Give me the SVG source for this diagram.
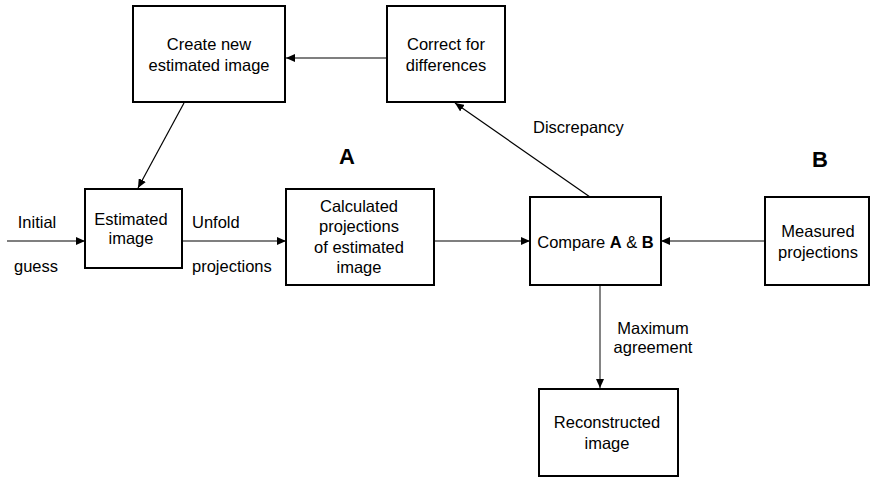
<svg xmlns="http://www.w3.org/2000/svg" width="870" height="478" viewBox="0 0 870 478">
<style>
.box{fill:#fff;stroke:#000;stroke-width:2}
.t{font-family:"Liberation Sans",Arial,sans-serif;font-size:16.5px;fill:#000;text-anchor:middle}
.l{font-family:"Liberation Sans",Arial,sans-serif;font-size:16.5px;fill:#000}
.big{font-family:"Liberation Sans",Arial,sans-serif;font-size:22px;font-weight:bold;fill:#000;text-anchor:middle}
.c{stroke:#000;stroke-width:1.2;fill:none;marker-end:url(#ah)}
.g{stroke:#777;stroke-width:1.8;fill:none;marker-end:url(#ah)}
</style>
<defs>
<marker id="ah" markerWidth="10" markerHeight="8" refX="9" refY="4" orient="auto" markerUnits="userSpaceOnUse">
<path d="M0,0 L9,4 L0,8 Z" fill="#000"/>
</marker>
</defs>
<rect width="870" height="478" fill="#fff"/>
<g id="connectors">
<line class="c" x1="387" y1="58" x2="286" y2="58"/>
<line class="c" x1="184" y1="103" x2="138" y2="188"/>
<line class="c" x1="7" y1="241" x2="85" y2="241"/>
<line class="c" x1="182" y1="241" x2="286" y2="241"/>
<line class="c" x1="434" y1="241" x2="530" y2="241"/>
<line class="c" x1="765" y1="241" x2="661" y2="241"/>
<line class="c" x1="590" y1="197" x2="455" y2="103"/>
<line class="g" x1="600" y1="286" x2="600" y2="388"/>
</g>
<g id="create">
<rect class="box" x="133" y="6" width="152" height="96"/>
<text class="t" x="209" y="50">Create new</text>
<text class="t" x="209" y="71">estimated image</text>
</g>
<g id="correct">
<rect class="box" x="387" y="6" width="118" height="96"/>
<text class="t" x="446" y="50">Correct for</text>
<text class="t" x="446" y="71">differences</text>
</g>
<g id="estimated">
<rect class="box" x="85" y="189" width="97" height="79"/>
<text class="t" x="131" y="225">Estimated</text>
<text class="t" x="131" y="244">image</text>
</g>
<g id="calculated">
<rect class="box" x="286" y="189" width="148" height="96"/>
<text class="t" x="359" y="212">Calculated</text>
<text class="t" x="359" y="232">projections</text>
<text class="t" x="359" y="253">of estimated</text>
<text class="t" x="359" y="273">image</text>
</g>
<g id="compare">
<rect class="box" x="530" y="197" width="131" height="88"/>
<text class="t" x="595.5" y="248">Compare <tspan font-weight="bold">A</tspan> &amp; <tspan font-weight="bold">B</tspan></text>
</g>
<g id="measured">
<rect class="box" x="765" y="197" width="104" height="88"/>
<text class="t" x="818" y="237">Measured</text>
<text class="t" x="818" y="258">projections</text>
</g>
<g id="reconstructed">
<rect class="box" x="539" y="389" width="139" height="87"/>
<text class="t" x="607" y="428">Reconstructed</text>
<text class="t" x="607" y="449">image</text>
</g>
<g id="labels">
<text class="t" x="37" y="228">Initial</text>
<text class="t" x="36" y="272">guess</text>
<text class="l" x="192" y="228">Unfold</text>
<text class="l" x="192" y="272">projections</text>
<text class="l" x="533" y="133">Discrepancy</text>
<text class="t" x="653" y="334">Maximum</text>
<text class="t" x="653" y="353">agreement</text>
<text class="big" x="347" y="164">A</text>
<text class="big" x="820" y="167">B</text>
</g>
</svg>
